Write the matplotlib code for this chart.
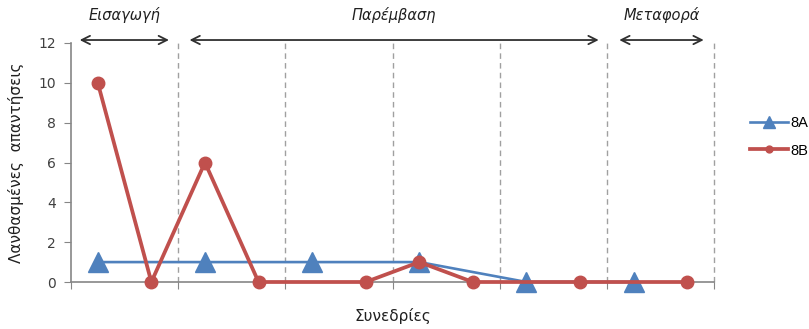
import numpy as np
import matplotlib
matplotlib.use('Agg')
import matplotlib.pyplot as plt

# 12 θέσεις: 6 συνεδρίες x 2 (8A, 8B); NaN = δεν υπάρχει μέτρηση
positions = np.arange(12)
values_8a = [1, np.nan, 1, np.nan, 1, np.nan, 1, np.nan, 0, np.nan, 0, np.nan]
values_8b = [10, 0, 6, 0, np.nan, 0, 1, 0, np.nan, 0, np.nan, 0]

# φάσεις: (ετικέτα, αρχή, τέλος) σε μονάδες θέσης
phases = [('Εισαγωγή', -0.39, 1.38),
          ('Παρέμβαση', 1.66, 9.40),
          ('Μεταφορά', 9.68, 11.36)]
boundaries = [1.5, 3.5, 5.5, 7.5, 9.5, 11.5]

BLUE = '#4F81BD'
RED = '#C0504D'
AXIS = '#868686'

plt.rcParams['font.family'] = ['DejaVu Sans']

fig = plt.figure(figsize=(8.09, 3.29), dpi=100)
ax = fig.add_axes([71 / 809, 1 - 282 / 329, (714 - 71) / 809, (282 - 43) / 329])


def connected(vals):
    # γραμμή που ενώνει τα σημεία πάνω από τα κενά
    v = np.array(vals, dtype=float)
    m = ~np.isnan(v)
    return positions[m], v[m]


xa, ya = connected(values_8a)
xb, yb = connected(values_8b)
ax.plot(xa, ya, color=BLUE, lw=1.9, marker='^', ms=15, label='8A',
        zorder=3, clip_on=False)
ax.plot(xb, yb, color=RED, lw=2.7, marker='o', ms=9, label='8B',
        zorder=4, clip_on=False)

for b in boundaries:
    ax.axvline(b, color='#A0A0A0', lw=1, ls=(0, (4, 3)), zorder=1, clip_on=False)

ax.set_xlim(-0.5, 11.5)
ax.set_ylim(0, 12)
ax.set_yticks(range(0, 13, 2))
ax.set_xticks([-0.5] + boundaries)
ax.set_xticklabels([])
ax.tick_params(axis='y', labelsize=10, colors='#404040', length=5, color=AXIS, pad=6)
ax.tick_params(axis='x', length=5, color=AXIS)
for s in ['top', 'right']:
    ax.spines[s].set_visible(False)
for s in ['left', 'bottom']:
    ax.spines[s].set_color(AXIS)
    ax.spines[s].set_linewidth(1.2)

# βέλη φάσεων πάνω από το διάγραμμα
for name, x0, x1 in phases:
    ax.annotate('', xy=(x0, 12.15), xytext=(x1, 12.15), xycoords='data',
                arrowprops=dict(arrowstyle='<->,head_length=0.6,head_width=0.3',
                                color='#303030', lw=1.3),
                annotation_clip=False)
    ax.text((x0 + x1) / 2, 13.0, name, ha='center', va='bottom',
            fontsize=10.5, style='italic', color='#202020', clip_on=False)

ax.set_xlabel('Συνεδρίες', fontsize=11, labelpad=10, color='#202020')
ax.set_ylabel('Λανθασμένες  απαντήσεις', fontsize=11, labelpad=10, color='#202020')

fig.legend(loc='center left', bbox_to_anchor=(750 / 809, 1 - 137 / 329),
           frameon=False, borderpad=0, borderaxespad=0,
           prop={'family': 'Liberation Sans', 'size': 10.5},
           handlelength=2.6, handletextpad=0.15,
           labelspacing=0.9, markerscale=0.55)

fig.savefig('out.png', dpi=100)
